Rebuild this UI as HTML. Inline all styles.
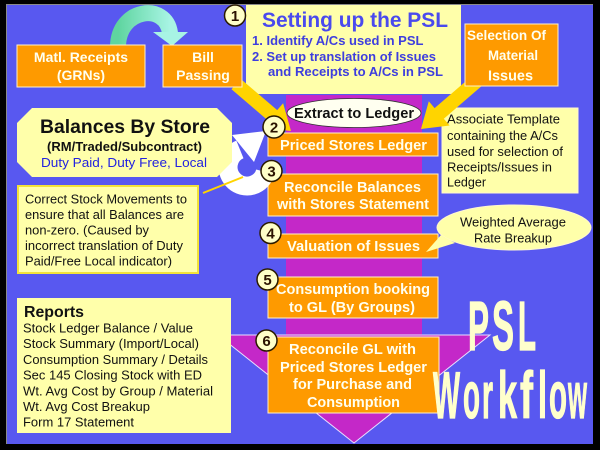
<!DOCTYPE html>
<html><head><meta charset="utf-8"><style>
html,body{margin:0;padding:0;background:#000;}
svg{display:block;}
text{font-family:"Liberation Sans",Arial,sans-serif;}
</style></head><body>
<svg width="600" height="450" viewBox="0 0 600 450" xmlns="http://www.w3.org/2000/svg">
<defs>
<linearGradient id="gr" x1="0" y1="0" x2="1" y2="0">
<stop offset="0" stop-color="#5fd5a0"/><stop offset="1" stop-color="#a8f4e4"/>
</linearGradient>
</defs>
<rect x="0" y="0" width="600" height="450" fill="#000"/>
<rect x="7" y="5" width="586" height="439" fill="#5858f0"/>
<line x1="6.5" y1="4" x2="6.5" y2="444" stroke="#8a8a8a" stroke-width="1"/>
<line x1="6" y1="4.5" x2="593" y2="4.5" stroke="#8a8a8a" stroke-width="1"/>

<!-- magenta column and arrowhead -->
<rect x="286" y="95" width="136" height="242" fill="#c428c8"/>
<polygon points="218,335 490,335 354,443" fill="#c428c8" stroke="#e8e0ff" stroke-width="1"/>

<!-- green arc arrow -->
<path d="M118,47 C118,8 166,2 170,33" fill="none" stroke="url(#gr)" stroke-width="16"/>
<polygon points="153,32 188,32 172,46" fill="#a8f4e4"/>

<!-- Setting up box -->
<rect x="246" y="5" width="215" height="89" fill="#ffffaa"/>
<text x="262" y="27" font-size="21" font-weight="bold" fill="#4a4aee" textLength="186" lengthAdjust="spacingAndGlyphs">Setting up the PSL</text>
<text x="252" y="45" font-size="13" font-weight="bold" fill="#3e3ede">1. Identify A/Cs used in PSL</text>
<text x="252" y="61" font-size="13" font-weight="bold" fill="#3e3ede" textLength="184" lengthAdjust="spacingAndGlyphs">2. Set up translation of Issues</text>
<text x="268" y="76" font-size="13" font-weight="bold" fill="#3e3ede" textLength="175" lengthAdjust="spacingAndGlyphs">and Receipts to A/Cs in PSL</text>

<!-- Associate template box -->
<rect x="442" y="108" width="136" height="85" fill="#ffffaa" stroke="#fff7d0" stroke-width="1"/>
<g font-size="13" fill="#111">
<text x="447" y="123.5" textLength="113" lengthAdjust="spacingAndGlyphs">Associate Template</text>
<text x="447" y="140" textLength="111" lengthAdjust="spacingAndGlyphs">containing the A/Cs</text>
<text x="447" y="156" textLength="116" lengthAdjust="spacingAndGlyphs">used for selection of</text>
<text x="447" y="171.5" textLength="105" lengthAdjust="spacingAndGlyphs">Receipts/Issues in</text>
<text x="447" y="186.5" textLength="39" lengthAdjust="spacingAndGlyphs">Ledger</text>
</g>

<!-- yellow arrows -->
<polygon points="240.5,78.7 277.2,110.1 283.1,103.2 291,131 262.3,127.6 268.2,120.7 231.5,89.3" fill="#ffd400"/>
<polygon points="473.4,74.7 434.6,108.1 428.8,101.3 421,129 449.6,125.5 443.8,118.7 482.6,85.3" fill="#ffd400"/>

<!-- top orange boxes -->
<rect x="17" y="45" width="128" height="42" fill="#fe9a00" stroke="#fff0c8" stroke-width="1"/>
<text x="81" y="62" font-size="14" font-weight="bold" fill="#fffff0" text-anchor="middle">Matl. Receipts</text>
<text x="81" y="80" font-size="14" font-weight="bold" fill="#fffff0" text-anchor="middle">(GRNs)</text>
<rect x="163" y="45" width="79" height="42" fill="#fe9a00" stroke="#fff0c8" stroke-width="1"/>
<text x="203" y="62" font-size="14" font-weight="bold" fill="#fffff0" text-anchor="middle">Bill</text>
<text x="203" y="80" font-size="14" font-weight="bold" fill="#fffff0" text-anchor="middle">Passing</text>
<rect x="465" y="24" width="93" height="62" fill="#fe9a00" stroke="#fff0c8" stroke-width="1"/>
<text x="467" y="40" font-size="13.5" font-weight="bold" fill="#fffff0" textLength="79" lengthAdjust="spacingAndGlyphs">Selection Of</text>
<text x="488" y="60" font-size="13.5" font-weight="bold" fill="#fffff0" textLength="50" lengthAdjust="spacingAndGlyphs">Material</text>
<text x="488" y="80.5" font-size="15" font-weight="bold" fill="#fffff0" textLength="45" lengthAdjust="spacingAndGlyphs">Issues</text>

<!-- Extract ellipse -->
<ellipse cx="354" cy="113" rx="67" ry="14.5" fill="#fffff0" stroke="#333" stroke-width="0.8"/>
<text x="354" y="118" font-size="14.5" font-weight="bold" fill="#111" text-anchor="middle" textLength="120" lengthAdjust="spacingAndGlyphs">Extract to Ledger</text>

<!-- central boxes -->
<g fill="#fe9a00" stroke="#fff0c8" stroke-width="1">
<rect x="268" y="133" width="170" height="23"/>
<rect x="268" y="174" width="170" height="42"/>
<rect x="268" y="234" width="170" height="24"/>
<rect x="268" y="277" width="170" height="41"/>
<rect x="268" y="337" width="171" height="76"/>
</g>
<g font-size="14.5" font-weight="bold" fill="#fffff0" text-anchor="middle">
<text x="353.5" y="150" textLength="147" lengthAdjust="spacingAndGlyphs">Priced Stores Ledger</text>
<text x="352.5" y="192" textLength="137" lengthAdjust="spacingAndGlyphs">Reconcile Balances</text>
<text x="353" y="209" textLength="152" lengthAdjust="spacingAndGlyphs">with Stores Statement</text>
<text x="353.5" y="251" textLength="133" lengthAdjust="spacingAndGlyphs">Valuation of Issues</text>
<text x="353" y="294" textLength="154" lengthAdjust="spacingAndGlyphs">Consumption booking</text>
<text x="352" y="312" textLength="126" lengthAdjust="spacingAndGlyphs">to GL (By Groups)</text>
<text x="352.5" y="354" textLength="127" lengthAdjust="spacingAndGlyphs">Reconcile GL with</text>
<text x="353.5" y="372" textLength="147" lengthAdjust="spacingAndGlyphs">Priced Stores Ledger</text>
<text x="352.5" y="389" textLength="119" lengthAdjust="spacingAndGlyphs">for Purchase and</text>
<text x="353.5" y="407" textLength="93" lengthAdjust="spacingAndGlyphs">Consumption</text>
</g>

<!-- Weighted callout -->
<ellipse cx="514" cy="227.5" rx="77" ry="22.5" fill="#ffffaa" stroke="#fff7d0" stroke-width="1"/>
<polygon points="441,235 426,252 455,243" fill="#ffffaa"/>
<text x="513" y="226.5" font-size="13" fill="#111" text-anchor="middle" textLength="106" lengthAdjust="spacingAndGlyphs">Weighted Average</text>
<text x="513" y="242.5" font-size="13" fill="#111" text-anchor="middle" textLength="78" lengthAdjust="spacingAndGlyphs">Rate Breakup</text>

<!-- white circular arrow -->
<path d="M265.4,171.9 A19,19 0 1 1 239.9,149.4" fill="none" stroke="#fff" stroke-width="19"/>
<polygon points="266,131 232,135 254,162" fill="#fff"/>

<!-- Balances octagon -->
<polygon points="32,108 217,108 232,123 232,162 217,177 32,177 17,162 17,123" fill="#ffffaa"/>
<text x="125" y="133" font-size="19.5" font-weight="bold" fill="#111" text-anchor="middle" textLength="170" lengthAdjust="spacingAndGlyphs">Balances By Store</text>
<text x="124.5" y="151" font-size="12.5" font-weight="bold" fill="#111" text-anchor="middle" textLength="155" lengthAdjust="spacingAndGlyphs">(RM/Traded/Subcontract)</text>
<text x="124" y="167" font-size="13" fill="#2222e0" text-anchor="middle" textLength="166" lengthAdjust="spacingAndGlyphs">Duty Paid, Duty Free, Local</text>

<!-- Correct Stock box -->
<rect x="18" y="186" width="180" height="87" fill="#ffffaa" stroke="#f2e23a" stroke-width="2"/>
<line x1="203" y1="193" x2="243" y2="177" stroke="#ffd400" stroke-width="2"/>
<g font-size="13" fill="#111">
<text x="25" y="203.5" textLength="162" lengthAdjust="spacingAndGlyphs">Correct Stock Movements to</text>
<text x="25" y="219" textLength="159" lengthAdjust="spacingAndGlyphs">ensure that all Balances are</text>
<text x="25" y="234.5" textLength="124" lengthAdjust="spacingAndGlyphs">non-zero. (Caused by</text>
<text x="25" y="250" textLength="158" lengthAdjust="spacingAndGlyphs">incorrect translation of Duty</text>
<text x="25" y="265.5" textLength="147" lengthAdjust="spacingAndGlyphs">Paid/Free Local indicator)</text>
</g>

<!-- Reports box -->
<rect x="17" y="298" width="214" height="135" fill="#ffffaa"/>
<text x="24" y="317" font-size="16" font-weight="bold" fill="#111" textLength="60" lengthAdjust="spacingAndGlyphs">Reports</text>
<g font-size="13" fill="#111">
<text x="23" y="332.5" textLength="170" lengthAdjust="spacingAndGlyphs">Stock Ledger Balance / Value</text>
<text x="23" y="348.2" textLength="176" lengthAdjust="spacingAndGlyphs">Stock Summary (Import/Local)</text>
<text x="23" y="363.9" textLength="185" lengthAdjust="spacingAndGlyphs">Consumption Summary / Details</text>
<text x="23" y="379.6" textLength="179" lengthAdjust="spacingAndGlyphs">Sec 145 Closing Stock with ED</text>
<text x="23" y="395.3" textLength="190" lengthAdjust="spacingAndGlyphs">Wt. Avg Cost by Group / Material</text>
<text x="23" y="411" textLength="127" lengthAdjust="spacingAndGlyphs">Wt. Avg Cost Breakup</text>
<text x="23" y="426.7" textLength="111" lengthAdjust="spacingAndGlyphs">Form 17 Statement</text>
</g>

<!-- PSL Workflow (per-letter, condensed) -->
<g font-weight="bold" fill="#ffffcc" stroke="#ffffcc" stroke-width="1.2" lengthAdjust="spacingAndGlyphs">
<text x="468" y="350" font-size="70" textLength="21" lengthAdjust="spacingAndGlyphs">P</text>
<text x="492" y="350" font-size="70" textLength="22" lengthAdjust="spacingAndGlyphs">S</text>
<text x="518" y="350" font-size="70" textLength="18" lengthAdjust="spacingAndGlyphs">L</text>
<text x="433" y="418" font-size="66" textLength="27" lengthAdjust="spacingAndGlyphs">W</text>
<text x="463" y="418" font-size="66" textLength="17" lengthAdjust="spacingAndGlyphs">o</text>
<text x="482" y="418" font-size="66" textLength="11" lengthAdjust="spacingAndGlyphs">r</text>
<text x="498" y="418" font-size="66" textLength="19" lengthAdjust="spacingAndGlyphs">k</text>
<text x="520" y="418" font-size="66" textLength="13" lengthAdjust="spacingAndGlyphs">f</text>
<text x="538" y="418" font-size="66" textLength="9" lengthAdjust="spacingAndGlyphs">l</text>
<text x="549" y="418" font-size="66" textLength="18" lengthAdjust="spacingAndGlyphs">o</text>
<text x="568" y="418" font-size="66" textLength="19" lengthAdjust="spacingAndGlyphs">w</text>
</g>

<!-- number circles -->
<g fill="#ffffc8" stroke="#2a1a00" stroke-width="1.5">
<circle cx="235" cy="15.5" r="10.5"/>
<circle cx="274" cy="127" r="11"/>
<circle cx="271.5" cy="171" r="10.5"/>
<circle cx="270.5" cy="233" r="10.5"/>
<circle cx="267.5" cy="279.5" r="10.5"/>
<circle cx="266.5" cy="340.5" r="10.5"/>
</g>
<g font-size="15" font-weight="bold" fill="#2a1200" text-anchor="middle">
<text x="235" y="21">1</text>
<text x="274" y="132.5">2</text>
<text x="271.5" y="176.5">3</text>
<text x="270.5" y="238.5">4</text>
<text x="267.5" y="285">5</text>
<text x="266.5" y="346">6</text>
</g>
</svg>
</body></html>
